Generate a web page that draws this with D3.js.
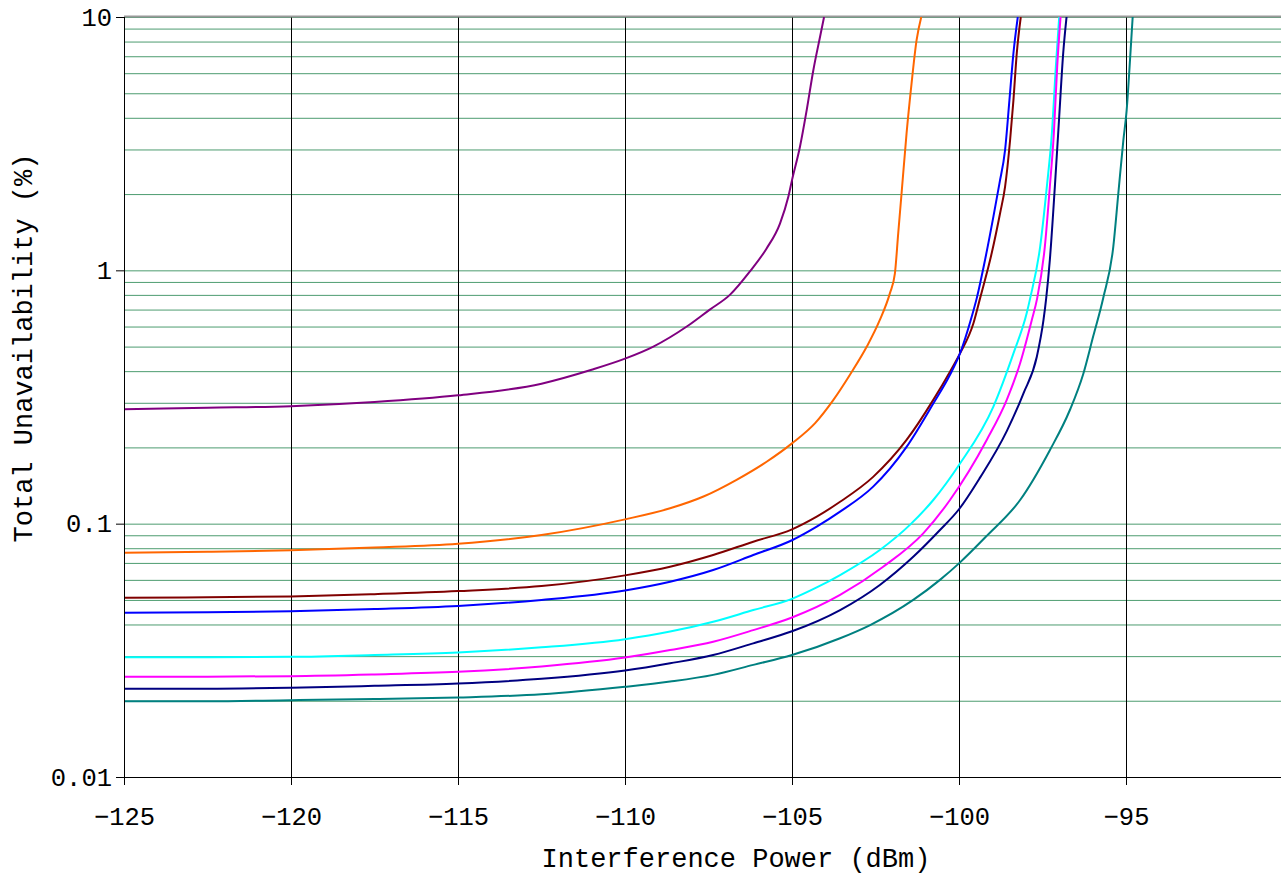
<!DOCTYPE html>
<html>
<head>
<meta charset="utf-8">
<script src="https://cdnjs.cloudflare.com/ajax/libs/d3/7.8.5/d3.min.js"></script>
<style>
  body { margin: 0; background: #fff; }
  #chart-line text { font-family: "Courier New", "Liberation Mono", monospace; fill: #000; }
  .gridline-x line { stroke: #000; stroke-width: 1; }
  .gridline-y line { stroke: #2e8b57; stroke-width: 1; stroke-opacity: 0.85; }
  .axis path, .axis line { stroke: #000; }
  .line { fill: none; stroke-width: 2; }
</style>
</head>
<body>
<div id="chart-line"></div>
<script>
// interference power (dBm) and total unavailability (%)
var purpleX = [-125, -122.5, -120, -117.5, -115, -112.5, -111, -110, -109.15, -108.15, -107.46, -106.86, -106.26, -105.76, -105.36, -105.11, -105, -104.76, -104.56, -104.36, -104.16, -104.04];
var purpleY = [0.283, 0.287, 0.291, 0.302, 0.321, 0.357, 0.405, 0.448, 0.50, 0.60, 0.70, 0.80, 0.99, 1.22, 1.53, 1.95, 2.27, 3.08, 4.29, 6.18, 8.36, 10];

var orangeX = [-125, -122.5, -120, -117.5, -115, -112.5, -110, -108.65, -107.65, -106.66, -105.76, -105, -104.3, -103.76, -103.26, -102.76, -102.37, -102.07, -101.92, -101.82, -101.72, -101.57, -101.42, -101.27, -101.13];
var orangeY = [0.0768, 0.0775, 0.0785, 0.0805, 0.0833, 0.0902, 0.104, 0.115, 0.128, 0.149, 0.1756, 0.2075, 0.25, 0.308, 0.388, 0.50, 0.637, 0.811, 0.97, 1.40, 2.01, 3.47, 5.47, 8.1, 10];

var maroonX = [-125, -122.5, -120, -117.5, -115, -112.5, -110, -108.65, -107.36, -106.16, -105, -104.26, -103.56, -102.57, -101.57, -100.77, -100.27, -99.97, -99.57, -99.37, -99.02, -98.77, -98.62, -98.47, -98.37, -98.27, -98.15];
var maroonY = [0.0510, 0.0512, 0.0516, 0.0527, 0.0542, 0.0567, 0.0625, 0.0676, 0.0752, 0.0849, 0.095, 0.1066, 0.122, 0.153, 0.214, 0.308, 0.398, 0.47, 0.617, 0.775, 1.17, 1.68, 2.14, 3.27, 4.7, 7.2, 10];

var blueX = [-125, -122.5, -120, -117.5, -115, -112.5, -110, -108.65, -107.36, -106.16, -105, -104.26, -103.56, -102.57, -101.57, -100.77, -100.27, -99.97, -99.62, -99.47, -99.22, -98.97, -98.79, -98.62, -98.49, -98.37, -98.24];
var blueY = [0.0445, 0.0447, 0.0451, 0.0460, 0.0473, 0.050, 0.0545, 0.059, 0.0656, 0.0752, 0.086, 0.0973, 0.1115, 0.14, 0.201, 0.298, 0.387, 0.47, 0.656, 0.775, 1.10, 1.63, 2.2, 2.99, 4.7, 7.2, 10];

var cyanX = [-125, -122.5, -120, -117.5, -115, -112.5, -110, -108.65, -107.36, -106.16, -105, -104.26, -103.56, -102.37, -101.47, -100.77, -100, -98.97, -98.37, -97.97, -97.87, -97.57, -97.37, -97.22, -97.10, -97.0];
var cyanY = [0.0297, 0.0297, 0.0298, 0.0303, 0.0310, 0.0325, 0.035, 0.0375, 0.041, 0.0456, 0.0505, 0.0560, 0.0627, 0.0787, 0.0989, 0.124, 0.1705, 0.29, 0.47, 0.68, 0.775, 1.24, 2.14, 3.47, 6.37, 10];

var magentaX = [-125, -122.5, -120, -117.5, -115, -112.5, -110, -108.65, -107.36, -106.16, -105, -103.56, -102.27, -101.07, -100.27, -99.17, -98.57, -98.17, -97.82, -97.66, -97.43, -97.28, -97.16, -97.06, -96.96];
var magentaY = [0.0249, 0.0249, 0.0250, 0.0254, 0.0260, 0.0273, 0.0296, 0.0317, 0.0342, 0.038, 0.0426, 0.0523, 0.0676, 0.0916, 0.124, 0.214, 0.308, 0.43, 0.637, 0.775, 1.24, 2.14, 3.47, 6.37, 10];

var navyX = [-125, -122.5, -120, -117.5, -115, -112.5, -110, -108.65, -107.36, -106.16, -105, -103.56, -102.37, -101.37, -100.57, -100, -99.37, -98.57, -98.07, -97.67, -97.47, -97.39, -97.28, -97.13, -97.0, -96.88, -96.78];
var navyY = [0.0223, 0.0223, 0.0225, 0.0229, 0.0234, 0.0244, 0.0263, 0.0281, 0.0303, 0.0337, 0.0376, 0.0456, 0.0573, 0.074, 0.0944, 0.114, 0.152, 0.232, 0.327, 0.456, 0.637, 0.775, 1.10, 2.14, 4.04, 7.2, 10];

var tealX = [-125, -122.5, -120, -117.5, -115, -112.5, -110, -108.65, -107.36, -106.16, -105, -103.56, -102.66, -101.37, -100.57, -100, -99.17, -98.17, -97.28, -96.68, -96.28, -95.98, -95.68, -95.38, -95.23, -95.08, -94.98, -94.88, -94.80];
var tealY = [0.0199, 0.0199, 0.0201, 0.0203, 0.0206, 0.0212, 0.0227, 0.0238, 0.0253, 0.0277, 0.0303, 0.0353, 0.0398, 0.050, 0.060, 0.0697, 0.0895, 0.124, 0.195, 0.281, 0.39, 0.55, 0.78, 1.24, 2.01, 3.25, 4.29, 6.76, 10];

var xTicks = [-125, -120, -115, -110, -105, -100, -95];
var yTicks = [0.01, 0.1, 1, 10];

var series = [
  {color: "#800080", x: purpleX, y: purpleY},
  {color: "#ff6600", x: orangeX, y: orangeY},
  {color: "#800000", x: maroonX, y: maroonY},
  {color: "#0000ff", x: blueX, y: blueY},
  {color: "#00ffff", x: cyanX, y: cyanY},
  {color: "#ff00ff", x: magentaX, y: magentaY},
  {color: "#000080", x: navyX, y: navyY},
  {color: "#008080", x: tealX, y: tealY}
];

function drawGraph() {

  var margin = {top: 17, right: 0, bottom: 99, left: 124},
      width  = 1281 - margin.left - margin.right,
      height = 876 - margin.top - margin.bottom;

  // plot runs on past the window edge, up to -90 dBm
  var xScale = d3.scaleLinear()
    .domain([-125, -90])
    .range([0, 35 * 33.4]);

  var yScale = d3.scaleLog()
    .domain([0.01, 10])
    .range([height, 0]);

  var svg = d3.select("#chart-line")
    .append("svg")
    .attr("width", 1281)
    .attr("height", 876)
    .append("g")
    .attr("transform", "translate(" + margin.left + "," + margin.top + ")");

  svg.append("defs").append("clipPath")
    .attr("id", "plotClip")
    .append("rect")
    .attr("x", 0).attr("y", 0)
    .attr("width", width).attr("height", height);

  // horizontal green gridlines at every log tick
  var minorTicks = yScale.ticks().filter(function (v) { return v > 0.01; });
  svg.append("g")
    .attr("class", "gridline-y")
    .call(d3.axisLeft(yScale)
      .tickValues(minorTicks)
      .tickSize(-width)
      .tickFormat(""))
    .call(function (g) { g.select(".domain").remove(); });

  // vertical black gridlines
  svg.append("g")
    .attr("class", "gridline-x")
    .call(d3.axisBottom(xScale)
      .tickValues(xTicks.slice(1))
      .tickSize(height)
      .tickFormat(""))
    .call(function (g) { g.select(".domain").remove(); });

  // top border
  svg.append("line")
    .attr("x1", 0).attr("x2", width)
    .attr("y1", -0.5).attr("y2", -0.5)
    .attr("stroke", "#999")
    .attr("stroke-width", 2);

  //Draw the lines
  var lineFunction = d3.line()
    .x(function (d) { return xScale(d[0]); })
    .y(function (d) { return yScale(d[1]); })
    .curve(d3.curveMonotoneX);

  svg.append("g")
    .attr("clip-path", "url(#plotClip)")
    .selectAll(".line")
    .data(series)
    .enter().append("path")
    .attr("class", "line")
    .attr("stroke", function (d) { return d.color; })
    .attr("d", function (d) {
      return lineFunction(d.x.map(function (v, i) { return [v, d.y[i]]; }));
    });

  //Add the X Axis
  var xAxis = svg.append("g")
    .attr("class", "x axis")
    .attr("transform", "translate(0," + height + ")")
    .call(d3.axisBottom(xScale)
      .tickValues(xTicks)
      .tickSize(8)
      .tickPadding(22)
      .tickFormat(d3.format("d")));
  xAxis.select(".domain").attr("d", "M0,0.5H" + width);
  xAxis.selectAll(".tick text").style("font-size", "25.5px");

  xAxis.append("text")
    .attr("x", 612)
    .attr("y", 90)
    .style("text-anchor", "middle")
    .style("font-size", "27px")
    .text("Interference Power (dBm)");

  //Add the Y Axis
  var yAxis = svg.append("g")
    .attr("class", "y axis")
    .call(d3.axisLeft(yScale)
      .tickValues(yTicks)
      .tickSize(8)
      .tickPadding(4)
      .tickFormat(function (v) { return String(v); }));
  yAxis.select(".domain").attr("d", "M0.5," + height + "V0");
  yAxis.selectAll(".tick text").style("font-size", "25.5px");

  yAxis.append("text")
    .attr("transform", "rotate(-90)")
    .attr("x", -331)
    .attr("y", -92)
    .style("text-anchor", "middle")
    .style("font-size", "27px")
    .text("Total Unavailability (%)");
}

drawGraph();
</script>
</body>
</html>
